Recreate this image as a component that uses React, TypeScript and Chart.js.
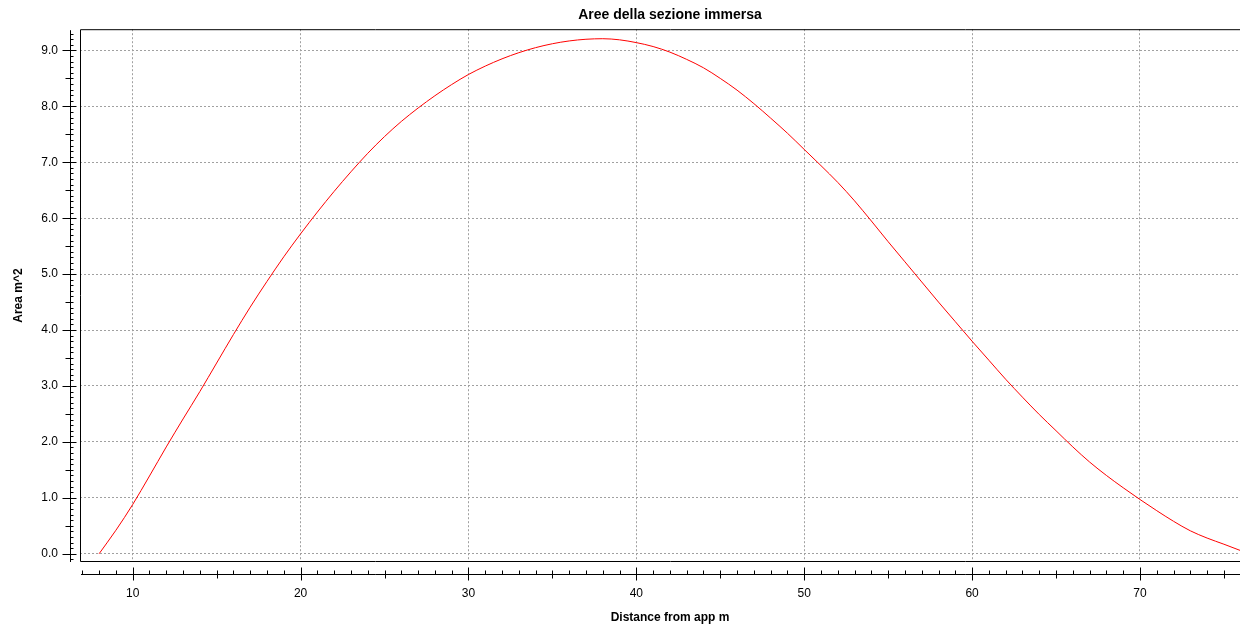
import React, { useEffect, useRef } from "react";
import { Chart, registerables } from "chart.js";

Chart.register(...registerables);

// ---- data ----
const distance = [
  8, 9, 10, 11, 12, 13, 14, 15, 16, 17, 18, 19, 20, 21, 22, 23, 24, 25, 26, 27,
  28, 29, 30, 31, 32, 33, 34, 35, 36, 37, 38, 39, 40, 41, 42, 43, 44, 45, 46, 47,
  48, 49, 50, 51, 52, 53, 54, 55, 56, 57, 58, 59, 60, 61, 62, 63, 64, 65, 66, 67,
  68, 69, 70, 71, 72, 73, 74, 75, 75.96,
];
const area = [
  0.0, 0.42, 0.88, 1.39, 1.91, 2.41, 2.9, 3.41, 3.92, 4.41, 4.87, 5.31, 5.72, 6.11, 6.48, 6.83, 7.16, 7.46, 7.73, 7.97,
  8.19, 8.39, 8.57, 8.72, 8.85, 8.96, 9.05, 9.12, 9.17, 9.2, 9.21, 9.19, 9.14, 9.07, 8.97, 8.84, 8.69, 8.5, 8.29, 8.05,
  7.79, 7.52, 7.23, 6.94, 6.64, 6.31, 5.95, 5.58, 5.22, 4.86, 4.5, 4.15, 3.8, 3.46, 3.12, 2.8, 2.49, 2.2, 1.91, 1.64,
  1.4, 1.18, 0.97, 0.77, 0.58, 0.41, 0.28, 0.17, 0.06,
];

const chartTitle = "Aree della sezione immersa";
const xAxisTitle = "Distance from app m";
const yAxisTitle = "Area m^2";

const xRange = [6.861, 77.15];
const yRange = [-0.148, 9.38];
const xStep = 10;
const yStep = 1;

const FONT = "'Liberation Sans', Arial, sans-serif";

const axesPlugin = {
  id: "jfreeAxes",
  afterDraw(chart: any) {
    const { ctx, chartArea: a, scales } = chart;
    const x = scales.x;
    const y = scales.y;
    ctx.save();
    ctx.strokeStyle = "#000";
    ctx.lineWidth = 1;
    ctx.setLineDash([]);
    // plot frame
    ctx.beginPath();
    ctx.rect(a.left + 0.5, a.top + 0.5, a.right - a.left, a.bottom - a.top - 1);
    ctx.stroke();

    // y axis line (offset from plot)
    const yx = a.left - 9.5;
    ctx.beginPath();
    ctx.moveTo(yx, a.top + 1);
    ctx.lineTo(yx, a.bottom);
    const i0 = Math.ceil(y.min * 10);
    const i1 = Math.floor(y.max * 10);
    for (let i = i0; i <= i1; i++) {
      const py = Math.round(y.getPixelForValue(i / 10)) + 0.5;
      let l = 0;
      let r = 3;
      if (i % 10 === 0) {
        l = 8;
        r = 6;
      } else if (Math.abs(i % 10) === 5) {
        l = 5;
        r = 3;
      }
      ctx.moveTo(yx - l, py);
      ctx.lineTo(yx + r, py);
    }
    ctx.stroke();

    // x axis line (offset from plot)
    const xy = a.bottom + 12.5;
    ctx.beginPath();
    ctx.moveTo(a.left + 1, xy);
    ctx.lineTo(a.right, xy);
    const j0 = Math.ceil(x.min);
    const j1 = Math.floor(x.max);
    for (let v = j0; v <= j1; v++) {
      const px = Math.round(x.getPixelForValue(v)) + 0.5;
      let u = 4;
      let d = 0;
      if (v % 10 === 0) {
        u = 7;
        d = 6;
      } else if (v % 5 === 0) {
        u = 4;
        d = 4;
      }
      ctx.moveTo(px, xy - u);
      ctx.lineTo(px, xy + d);
    }
    ctx.stroke();
    ctx.restore();
  },
};

export default function App() {
  const ref = useRef<HTMLCanvasElement | null>(null);

  useEffect(() => {
    if (!ref.current) return;
    const points = distance.map((d, i) => ({ x: d, y: area[i] }));
    const chart = new Chart(ref.current, {
      type: "line",
      data: {
        datasets: [
          {
            label: "Area",
            data: points,
            borderColor: "#ff0000",
            borderWidth: 1,
            pointRadius: 0,
            fill: false,
            cubicInterpolationMode: "monotone",
            xAxisID: "x",
            yAxisID: "y",
          },
        ],
      },
      options: {
        animation: false,
        responsive: false,
        maintainAspectRatio: false,
        layout: { padding: 0 },
        plugins: {
          legend: { display: false },
          tooltip: { enabled: false },
          title: {
            display: true,
            text: chartTitle,
            color: "#000",
            font: { family: FONT, size: 14, weight: "bold", lineHeight: 1.2 },
            padding: { top: 6, bottom: 5.2 },
          },
        },
        scales: {
          x: {
            type: "linear",
            position: "bottom",
            min: xRange[0],
            max: xRange[1],
            afterFit(scale: any) {
              scale.height = 68;
            },
            ticks: {
              stepSize: xStep,
              includeBounds: false,
              autoSkip: false,
              maxRotation: 0,
              color: "#000",
              padding: 24,
              font: { family: FONT, size: 12 },
              callback: (v: any) => String(v),
            },
            grid: {
              color: "#a0a0a0",
              lineWidth: 1,
              drawTicks: false,
            },
            border: { display: false, dash: [2, 2] },
            title: {
              display: true,
              text: xAxisTitle,
              color: "#000",
              font: { family: FONT, size: 12, weight: "bold", lineHeight: 1.2 },
              padding: { top: 0, bottom: 5 },
            },
          },
          y: {
            type: "linear",
            position: "left",
            min: yRange[0],
            max: yRange[1],
            afterFit(scale: any) {
              scale.width = 80;
            },
            ticks: {
              stepSize: yStep,
              includeBounds: false,
              autoSkip: false,
              color: "#000",
              padding: 22,
              font: { family: FONT, size: 12 },
              callback: (v: any) => Number(v).toFixed(1),
            },
            grid: {
              color: "#a0a0a0",
              lineWidth: 1,
              drawTicks: false,
            },
            border: { display: false, dash: [2, 2] },
            title: {
              display: true,
              text: yAxisTitle,
              color: "#000",
              font: { family: FONT, size: 12, weight: "bold", lineHeight: 1.2 },
              padding: { top: 11, bottom: 0 },
            },
          },
          rightSpace: {
            type: "linear",
            position: "right",
            display: true,
            min: 0,
            max: 1,
            afterFit(scale: any) {
              scale.width = 80;
            },
            ticks: { display: false },
            grid: { display: false, drawTicks: false },
            border: { display: false },
          },
        },
      },
      plugins: [axesPlugin],
    } as any);
    return () => chart.destroy();
  }, []);

  return (
    <div
      style={{
        position: "absolute",
        left: 0,
        top: 0,
        width: 1240,
        height: 630,
        overflow: "hidden",
        background: "#fff",
      }}
    >
      <canvas ref={ref} width={1340} height={630} style={{ display: "block" }} />
    </div>
  );
}
